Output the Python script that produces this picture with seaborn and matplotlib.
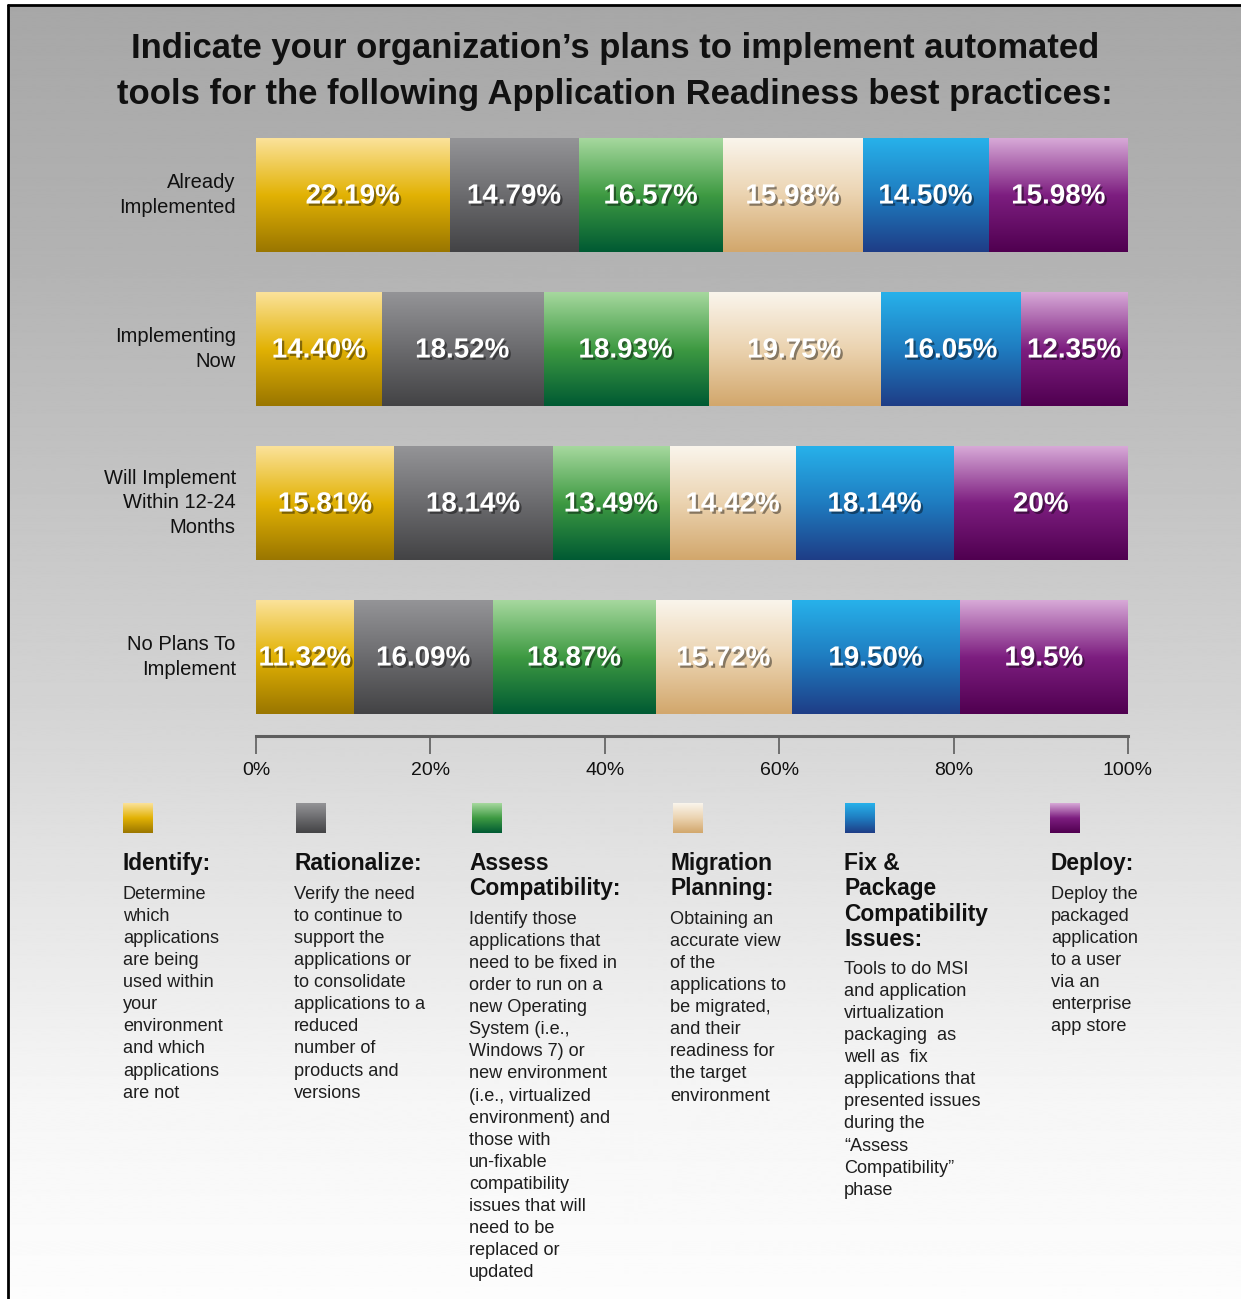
import numpy as np
import pandas as pd
import matplotlib
matplotlib.use('Agg')
import matplotlib.pyplot as plt
import matplotlib.patheffects as pe
from matplotlib.colors import LinearSegmentedColormap
import seaborn as sns

# survey answers (as printed on the bars)
statuses = ['Already\nImplemented', 'Implementing\nNow', 'Will Implement\nWithin 12-24\nMonths', 'No Plans To\nImplement']
identify = ['22.19', '14.40', '15.81', '11.32']
rationalize = ['14.79', '18.52', '18.14', '16.09']
assess = ['16.57', '18.93', '13.49', '18.87']
migration = ['15.98', '19.75', '14.42', '15.72']
fix_package = ['14.50', '16.05', '18.14', '19.50']
deploy = ['15.98', '12.35', '20', '19.5']

practices = ['Identify', 'Rationalize', 'Assess Compatibility', 'Migration Planning',
             'Fix & Package Compatibility Issues', 'Deploy']
series = [identify, rationalize, assess, migration, fix_package, deploy]

headers = ['Identify:', 'Rationalize:', 'Assess\nCompatibility:', 'Migration\nPlanning:',
           'Fix &\nPackage\nCompatibility\nIssues:', 'Deploy:']
descriptions = [
    'Determine\nwhich\napplications\nare being\nused within\nyour\nenvironment\nand which\napplications\nare not',
    'Verify the need\nto continue to\nsupport the\napplications or\nto consolidate\napplications to a\nreduced\nnumber of\nproducts and\nversions',
    'Identify those\napplications that\nneed to be fixed in\norder to run on a\nnew Operating\nSystem (i.e.,\nWindows 7) or\nnew environment\n(i.e., virtualized\nenvironment) and\nthose with\nun-fixable\ncompatibility\nissues that will\nneed to be\nreplaced or\nupdated',
    'Obtaining an\naccurate view\nof the\napplications to\nbe migrated,\nand their\nreadiness for\nthe target\nenvironment',
    'Tools to do MSI\nand application\nvirtualization\npackaging  as\nwell as  fix\napplications that\npresented issues\nduring the\n\u201cAssess\nCompatibility\u201d\nphase',
    'Deploy the\npackaged\napplication\nto a user\nvia an\nenterprise\napp store',
]

# light top -> dark bottom shading for each practice
shades = [
    ['#fbe29a', '#e2b204', '#9a7600'],
    ['#949497', '#6b6b6e', '#434345'],
    ['#a6d89e', '#3e9a42', '#005a33'],
    ['#faf5ec', '#ebd3b0', '#d2a76c'],
    ['#27b1ea', '#1f7cc0', '#1e3d86'],
    ['#d7a9d7', '#7d1e80', '#500050'],
]

W, H = 1241, 1299

sns.set_theme(style='white')
plt.rcParams['font.family'] = ['Liberation Sans', 'DejaVu Sans']

fig = plt.figure(figsize=(W / 100, H / 100), dpi=100, facecolor='white')

# background panel with grey -> white fade
bg = fig.add_axes([0, 0, 1, 1], zorder=0)
rows_px = np.arange(H)
fade = np.interp(rows_px, [0, 250, 700, 850, 1100, 1299], [0.655, 0.70, 0.83, 0.885, 0.965, 0.99])
bg.imshow(fade[:, None], cmap='gray', vmin=0, vmax=1, extent=(8, W, H, 5), aspect='auto')
bg.plot([8, 8], [5, H], color='black', lw=2)
bg.plot([8, W], [5, 5], color='black', lw=2)

grad = np.linspace(0, 1, 128)[:, None]
cmaps = [LinearSegmentedColormap.from_list(p, c) for p, c in zip(practices, shades)]

# stacked bars
ax = fig.add_axes([256 / W, 1 - 736 / H, 872 / W, 620 / H], zorder=1)
ax.patch.set_alpha(0)

df = pd.DataFrame({p: [float(v) for v in s] for p, s in zip(practices, series)}, index=statuses)
shares = df.div(df.sum(axis=1), axis=0) * 100
cum = shares.cumsum(axis=1)

for k in reversed(range(len(practices))):
    n0 = len(ax.patches)
    layer = pd.DataFrame({'status': statuses, 'share': cum.iloc[:, k].values})
    sns.barplot(data=layer, x='share', y='status', orient='h', color=shades[k][1],
                width=0.74, errorbar=None, ax=ax)
    for p in ax.patches[n0:]:
        x0, y0, w, h = p.get_x(), p.get_y(), p.get_width(), p.get_height()
        ax.imshow(grad, cmap=cmaps[k], extent=(x0, x0 + w, y0 + h, y0), aspect='auto',
                  zorder=2 + (len(practices) - k), interpolation='bilinear')
        p.set_visible(False)

shadow = [pe.withSimplePatchShadow(offset=(1.6, -1.6), shadow_rgbFace='black', alpha=0.42)]
for i in range(len(statuses)):
    for k, s in enumerate(series):
        xc = cum.iloc[i, k] - shares.iloc[i, k] / 2
        ax.text(xc, i + 0.01, s[i] + '%', ha='center', va='center', color='white',
                fontsize=20, fontweight='bold', zorder=20, path_effects=shadow)

ax.set_xlim(0, 100)
ax.set_ylim(3.513, -0.513)
ax.set_xlabel('')
ax.set_ylabel('')
ax.set_xticks(range(0, 101, 20))
ax.set_xticklabels([f'{t}%' for t in range(0, 101, 20)])
ax.tick_params(axis='x', direction='out', length=13, width=1.3, color='#666666',
               labelsize=14, pad=6, labelcolor='#111111', bottom=True)
ax.tick_params(axis='y', length=0, pad=14.5, labelsize=14.5, labelcolor='#111111')
for lab in ax.get_yticklabels():
    lab.set_linespacing(1.35)
    lab.set_verticalalignment('center')
for side in ['top', 'right', 'left']:
    ax.spines[side].set_visible(False)
ax.spines['bottom'].set_color('#5e5e5e')
ax.spines['bottom'].set_linewidth(2.2)

# title
bg.text(615, 32, 'Indicate your organization\u2019s plans to implement automated\n'
        'tools for the following Application Readiness best practices:',
        ha='center', va='top', fontsize=24.9, fontweight='bold', color='#111111',
        linespacing=1.5)

# legend columns
sq_x = [123, 296, 472, 673, 845, 1050]
col_x = [123, 294, 469, 670, 844, 1051]
for k in range(len(practices)):
    bg.imshow(grad, cmap=cmaps[k], extent=(sq_x[k], sq_x[k] + 30, 833, 803), aspect='auto',
              interpolation='bilinear')
    bg.text(col_x[k], 852, headers[k], ha='left', va='top', fontsize=16.4,
            fontweight='bold', color='#111111', linespacing=1.13)
    n_head = headers[k].count('\n') + 1
    bg.text(col_x[k], 852 + n_head * 25 + 9, descriptions[k], ha='left', va='top',
            fontsize=13.1, color='#1e1e1e', linespacing=1.39)

bg.set_xlim(0, W)
bg.set_ylim(H, 0)
bg.axis('off')

fig.savefig('out.png', dpi=100, facecolor='white')
